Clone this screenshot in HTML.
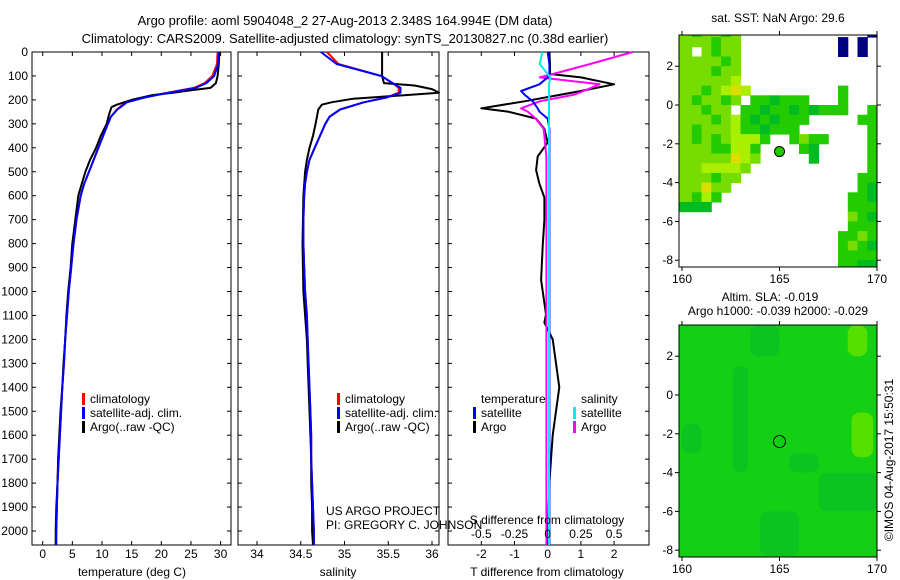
<!DOCTYPE html>
<html><head><meta charset="utf-8">
<style>
html,body{margin:0;padding:0;background:#fff;}
svg{display:block;font-family:"Liberation Sans",sans-serif;font-size:12px;}
</style></head>
<body>
<svg id="fig" width="900" height="580" viewBox="0 0 900 580" xmlns="http://www.w3.org/2000/svg">
<text x="345" y="25" text-anchor="middle" font-size="13">Argo profile: aoml 5904048_2 27-Aug-2013 2.348S 164.994E (DM data)</text>
<text x="345" y="43" text-anchor="middle" font-size="13">Climatology: CARS2009. Satellite-adjusted climatology: synTS_20130827.nc (0.38d earlier)</text>
<g id="layer"></g>
<text x="326" y="515">US ARGO PROJECT</text>
<text x="326" y="529">PI: GREGORY C. JOHNSON</text>
<text x="778" y="22" text-anchor="middle">sat. SST: NaN Argo: 29.6</text>
<text x="770" y="301" text-anchor="middle">Altim. SLA: -0.019</text>
<text x="778" y="315" text-anchor="middle">Argo h1000: -0.039 h2000: -0.029</text>
<text transform="translate(893,460) rotate(-90)" text-anchor="middle">©IMOS 04-Aug-2017 15:50:31</text>
</svg>
<script>
// ---- profile data ----
const tDepth = [0,50,100,130,150,160,170,180,200,220,230,260,300,350,400,450,500,550,600,700,800,900,1000,1100,1200,1300,1400,1500,1600,1700,1800,1900,2000,2058];
const tArgo  = [29.8,29.7,29.5,29.2,28.3,25,22,18.5,15,12.5,11.6,11.2,10.8,9.8,9.0,8.0,7.2,6.6,6.0,5.5,5.0,4.7,4.3,4.0,3.8,3.5,3.3,3.0,2.8,2.6,2.5,2.3,2.2,2.2];
const cDepth = [0,50,100,130,150,170,190,210,240,270,300,350,400,450,500,550,600,700,800,900,1000,1100,1200,1300,1400,1500,1600,1700,1800,1900,2000,2058];
const tClim  = [29.5,29.4,28.6,27.3,25.5,21,17,14,12.5,11.5,11.0,10.2,9.4,8.6,7.8,7.0,6.4,5.7,5.2,4.8,4.4,4.1,3.8,3.6,3.3,3.1,2.9,2.7,2.5,2.4,2.3,2.2];
const tSat   = [29.7,29.6,28.9,27.6,25.8,21.3,17.2,14.2,12.6,11.5,11.0,10.2,9.4,8.6,7.8,7.0,6.4,5.7,5.2,4.8,4.4,4.1,3.8,3.6,3.3,3.1,2.9,2.7,2.5,2.4,2.3,2.3];
const sArgo  = [35.43,35.43,35.43,35.45,35.8,36.0,36.08,35.7,35.1,34.85,34.74,34.70,34.67,34.64,34.60,34.57,34.55,34.53,34.52,34.53,34.55,34.57,34.58,34.59,34.60,34.61,34.62,34.62,34.63,34.63,34.64,34.64];
const sClim  = [34.80,34.93,35.42,35.55,35.62,35.62,35.48,35.22,34.95,34.83,34.78,34.72,34.66,34.60,34.57,34.55,34.54,34.53,34.53,34.54,34.55,34.57,34.58,34.59,34.60,34.61,34.62,34.62,34.63,34.64,34.65,34.65];
const sSat   = [34.73,34.91,35.42,35.55,35.64,35.64,35.48,35.22,34.95,34.83,34.78,34.72,34.66,34.60,34.57,34.55,34.54,34.53,34.53,34.54,34.55,34.57,34.58,34.59,34.60,34.61,34.62,34.62,34.63,34.64,34.65,34.65];
const sArgoDepth = [0,50,100,130,140,155,170,180,195,210,220,240,300,350,400,450,500,600,800,1000,1100,1200,1300,1400,1500,1600,1700,1800,1900,2000,2058];
// ---- difference data ----
const dDepth = [0,50,92,106,135,163,178,206,235,249,278,321,378,436,493,550,608,700,809,952,1095,1130,1200,1300,1400,1500,1600,1700,1800,1900,2000,2058];
const dTArgo = [0.05,0.07,0.07,1.0,2.0,1.0,0.4,-0.7,-2.0,-1.2,-0.35,-0.1,0.0,-0.3,-0.35,-0.25,-0.1,-0.1,-0.15,-0.2,-0.05,-0.1,0.15,0.25,0.35,0.25,0.15,0.1,0.05,0.03,0.02,0.02];
const dTSat  = [0.0,0.05,0.05,0.0,-0.25,-0.8,-0.7,-0.45,-0.3,-0.25,0.0,0.05,0.05,0.05,0.05,0.05,0.05,0.05,0.05,0.05,0.05,0.05,0.05,0.05,0.05,0.05,0.05,0.05,0.05,0.05,0.05,0.05];
const dSArgo = [0.64,0.32,0.04,-0.06,0.39,0.27,0.2,-0.06,-0.2,-0.15,-0.09,-0.03,-0.02,-0.01,-0.01,-0.01,-0.01,-0.01,-0.01,-0.01,-0.01,-0.01,-0.01,-0.01,-0.01,-0.01,-0.01,-0.01,-0.01,-0.01,-0.01,-0.01];
const dSSat  = [-0.04,-0.06,0.0,0.02,0.01,0.01,0.01,0.01,0.01,0.01,0.01,0.01,0.01,0.01,0.01,0.01,0.01,0.01,0.01,0.01,0.01,0.01,0.01,0.01,0.01,0.01,0.01,0.01,0.01,0.01,0.01,0.01];
// ---- tick labels ----
const depthTicks = [0,100,200,300,400,500,600,700,800,900,1000,1100,1200,1300,1400,1500,1600,1700,1800,1900,2000];
const tempTicks = [0,5,10,15,20,25,30];
const salTicks = [34,34.5,35,35.5,36];
const dTTicks = [-2,-1,0,1,2];
const dSTicks = [-0.5,-0.25,0,0.25,0.5];
const dSLabels = ['-0.5','-0.25','0','0.25','0.5'];
const latTicks = [2,0,-2,-4,-6,-8];
const lonTicks = [160,165,170];
// ---- SST map grid (0.5 deg cells; rows from lat 4.0 down, cols from lon 160) ----
const sstRows = [
"gGggGg.............b",
"gggGgg..........b.b.",
"g.gGgg..........b.b.",
"ggggGg..............",
"gggGgg..............",
"gggggy..............",
"ggGgyYy.........G...",
"gGggGg.GGdGGG...G...",
"ggGgg.GGdGGdGdGGG..G",
"gggGgyGdGdGGG.....GG",
"gGgggyGGdGGG.......G",
"gGgGgyyyG..GgGG....G",
"gggGGyyG....Gd.....G",
"gggggYyg.....d.....G",
"ggyyyyg............G",
"gggGgg............GG",
"ggYgg.............Gd",
"gGyG.............GGd",
"ddd..............GGG",
".................gGd",
".................GGG",
"................GGgG",
"................GgGd",
"................GGGG",
"................GGdd"];
const sstColors = {g:'#77dd00',G:'#22cc00',y:'#aaee00',Y:'#dddd00',d:'#00bb22',b:'#000080'};
// SLA map patches: [lon0, lat0, lon1, lat1, colorKey]
const slaPatches = [[168.5,3.6,169.5,2.0,'l'],[168.7,-0.9,169.8,-3.2,'l'],[162.6,1.5,163.4,-4.0,'d'],[160,-1.5,161,-3,'d'],[167,-4,170,-6,'d'],[164,-6,166,-8.3,'d'],[163.5,3.6,165,2,'d'],[165.5,-3,167,-4,'d']];
const slaColors = {l:'#55e000',d:'#0cc322'};

const NS='http://www.w3.org/2000/svg';
const layer=document.getElementById('layer');
function mk(tag,attrs,parent){const e=document.createElementNS(NS,tag);for(const k in attrs)e.setAttribute(k,attrs[k]);(parent||layer).appendChild(e);return e;}

const Y0=52, YS=0.2395; // depth axis
const yD=d=>Y0+d*YS;
const panels={
 temp:{x0:32,x1:231,fx:v=>42.7+v*5.93},
 sal:{x0:238,x1:439,fx:v=>257+(v-34)*87.5},
 diff:{x0:448,x1:649,fx:v=>547.7+v*33.2}
};
const fxS=v=>547.7+v*132.8;
const PB=545;

function frame(p,name){
  const r=mk('rect',{x:p.x0,y:Y0,width:p.x1-p.x0,height:PB-Y0,fill:'none',stroke:'#000','stroke-width':1});
  
  
}
function line(xs,ds,fx,color,name){
  let d='';for(let i=0;i<xs.length;i++){d+=(i?'L':'M')+fx(xs[i]).toFixed(1)+' '+Math.min(yD(ds[i]),PB).toFixed(1);}
  const e=mk('path',{d:d,fill:'none',stroke:color,'stroke-width':2,'stroke-linejoin':'round'});
  
  
}
function txt(x,y,s,anchor,name,extra){
  const e=mk('text',Object.assign({x:x,y:y,'text-anchor':anchor||'start'},extra||{}));e.textContent=s;
  
  
  return e;
}
function xticks(p,ticks,fx,labels,yl,name){
  ticks.forEach((t,i)=>{
    const x=fx(t);
    mk('line',{x1:x,y1:Y0,x2:x,y2:Y0+4,stroke:'#000'});
    mk('line',{x1:x,y1:PB,x2:x,y2:PB-4,stroke:'#000'});
    if(labels) txt(x,yl,labels[i],'middle',name);
  });
}

// panel 1
frame(panels.temp,'temperature-panel');
depthTicks.forEach(d=>{mk('line',{x1:32,y1:yD(d),x2:36,y2:yD(d),stroke:'#000'});mk('line',{x1:231,y1:yD(d),x2:227,y2:yD(d),stroke:'#000'});txt(28,yD(d)+4,String(d),'end','depth-tick-label');});
xticks(panels.temp,tempTicks,panels.temp.fx,tempTicks.map(String),558,'temperature-tick-label');
txt(132,576,'temperature (deg C)','middle','temperature-axis-title');
line(tClim,cDepth,panels.temp.fx,'#ff0000','temp-climatology-line');
line(tArgo,tDepth,panels.temp.fx,'#000000','temp-argo-line');
line(tSat,cDepth,panels.temp.fx,'#0000ff','temp-satellite-line');

// panel 2
frame(panels.sal,'salinity-panel');
depthTicks.forEach(d=>{mk('line',{x1:238,y1:yD(d),x2:242,y2:yD(d),stroke:'#000'});mk('line',{x1:439,y1:yD(d),x2:435,y2:yD(d),stroke:'#000'});});
xticks(panels.sal,salTicks,panels.sal.fx,salTicks.map(String),558,'salinity-tick-label');
txt(338,576,'salinity','middle','salinity-axis-title');
line(sClim,cDepth,panels.sal.fx,'#ff0000','sal-climatology-line');
line(sArgo,sArgoDepth,panels.sal.fx,'#000000','sal-argo-line');
line(sSat,cDepth,panels.sal.fx,'#0000ff','sal-satellite-line');

// panel 3
frame(panels.diff,'difference-panel');
depthTicks.forEach(d=>{mk('line',{x1:448,y1:yD(d),x2:452,y2:yD(d),stroke:'#000'});mk('line',{x1:649,y1:yD(d),x2:645,y2:yD(d),stroke:'#000'});});
xticks(panels.diff,dTTicks,panels.diff.fx,dTTicks.map(String),558,'t-diff-tick-label');
txt(547,576,'T difference from climatology','middle','t-diff-axis-title');
line(dTArgo,dDepth,panels.diff.fx,'#000000','t-diff-argo-line');
line(dSArgo,dDepth,fxS,'#ff00ff','s-diff-argo-line');
line(dTSat,dDepth,panels.diff.fx,'#0000ff','t-diff-satellite-line');
line(dSSat,dDepth,fxS,'#00eeee','s-diff-satellite-line');
dSTicks.forEach((t,i)=>txt(fxS(t),538,dSLabels[i],'middle','s-diff-tick-label'));
txt(547,524,'S difference from climatology','middle','s-diff-axis-title');

// legends
function legItem(x,y,color,label,name){
  mk('rect',{x:x,y:y-10,width:3,height:12,fill:color});
  txt(x+8,y,label,'start',name);
}
[[82,'temp'],[337,'sal']].forEach(([lx,n])=>{
  legItem(lx,403,'#ff0000','climatology',n+'-legend-climatology');
  legItem(lx,417,'#0000ff','satellite-adj. clim.',n+'-legend-satellite');
  legItem(lx,431,'#000000','Argo(..raw -QC)',n+'-legend-argo');
});
txt(481,403,'temperature','start','diff-legend-temperature-header');
legItem(473,417,'#0000ff','satellite','diff-legend-t-satellite');
legItem(473,431,'#000000','Argo','diff-legend-t-argo');
txt(581,403,'salinity','start','diff-legend-salinity-header');
legItem(573,417,'#00eeee','satellite','diff-legend-s-satellite');
legItem(573,431,'#ff00ff','Argo','diff-legend-s-argo');

// maps
function mapAxes(top,bottom,lat0y,name){
  const fxL=l=>682+(l-160)*19.5, fyL=l=>lat0y-l*19.4;
  const r=mk('rect',{x:679,y:top,width:198,height:bottom-top,fill:'none',stroke:'#000'});
  
  
  latTicks.forEach(l=>{const y=fyL(l);mk('line',{x1:679,y1:y,x2:675,y2:y,stroke:'#000'});mk('line',{x1:877,y1:y,x2:881,y2:y,stroke:'#000'});txt(673,y+4,String(l),'end','lat-tick-label');});
  lonTicks.forEach(l=>{const x=fxL(l);mk('line',{x1:x,y1:top,x2:x,y2:top-4,stroke:'#000'});mk('line',{x1:x,y1:bottom,x2:x,y2:bottom+4,stroke:'#000'});txt(x,bottom+16,String(l),'middle','lon-tick-label');});
  return {fxL,fyL};
}
const defs=mk('defs',{});
const c1=mk('clipPath',{id:'c1'},defs);mk('rect',{x:679,y:35,width:198,height:232},c1);
const c2=mk('clipPath',{id:'c2'},defs);mk('rect',{x:679,y:325,width:198,height:232},c2);
const g1=mk('g',{'clip-path':'url(#c1)'});


const m1x=l=>682+(l-160)*19.5, m1y=l=>105-l*19.4;
sstRows.forEach((row,ri)=>{
  for(let ci=0;ci<row.length;ci++){
    const ch=row[ci]; if(ch==='.') continue;
    const lon=160+ci*0.5, lat=4.0-ri*0.5;
    const x0=ci===0?679:m1x(lon);
    const cell=mk('rect',{x:x0.toFixed(1),y:m1y(lat).toFixed(1),width:(m1x(lon+0.5)-x0+0.5).toFixed(1),height:(9.7+0.5),fill:sstColors[ch]},g1);
    
    
  }
});
mapAxes(35,267,105,'sst-map-frame');
const p1=mk('circle',{cx:m1x(165),cy:m1y(-2.4),r:5,fill:'#22cc00',stroke:'#000','stroke-width':1});



const g2=mk('g',{'clip-path':'url(#c2)'});


const m2y=l=>395-l*19.4;
mk('rect',{x:679,y:325,width:198,height:232,fill:'#14d014'},g2);
slaPatches.forEach(p=>{
  const pr=mk('rect',{x:m1x(p[0]),y:m2y(p[1]),width:m1x(p[2])-m1x(p[0]),height:m2y(p[3])-m2y(p[1]),fill:slaColors[p[4]],rx:8},g2);
  
  
});
mapAxes(325,557,395,'sla-map-frame');
const p2=mk('circle',{cx:m1x(165),cy:m2y(-2.4),r:6,fill:'none',stroke:'#000','stroke-width':1});


</script>
</body></html>
